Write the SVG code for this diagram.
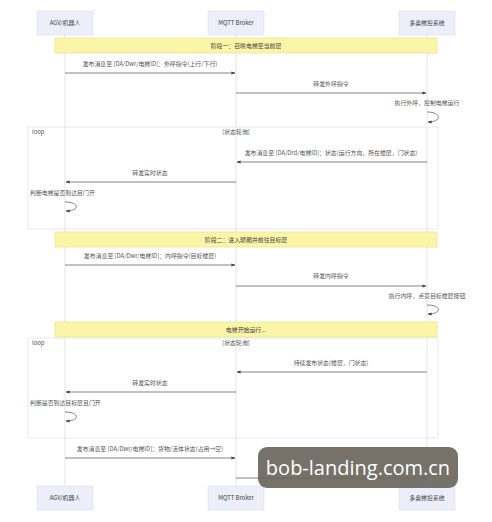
<svg xmlns="http://www.w3.org/2000/svg" width="492" height="522" viewBox="0 0 492 522">
<defs>
<style>
text{font-family:"Noto Sans CJK SC","Liberation Sans",sans-serif;fill:#555;font-size:5.9px}
.actor rect{fill:#eceef9;stroke:#dcdcf0;stroke-width:0.6}
.actor text{text-anchor:middle;fill:#444}
.life{stroke:#dcdcdc;stroke-width:0.8}
.note rect{fill:#fbf5a8;stroke:#e6dd7a;stroke-width:0.6}
.note text{text-anchor:middle;fill:#444}
.loop rect{fill:none;stroke:#dfe3ea;stroke-width:0.8}
.msg{stroke:#666;stroke-width:0.8;fill:none}
.lbl{text-anchor:middle}
</style>
<marker id="ah" viewBox="0 0 10 10" refX="9" refY="5" markerWidth="5" markerHeight="5" orient="auto"><path d="M0,1 L10,5 L0,9 z" fill="#444"/></marker>
</defs>
<rect width="492" height="522" fill="#fff"/>
<g id="lifelines">
<line class="life" x1="65" y1="35" x2="65" y2="486"/>
<line class="life" x1="236" y1="35" x2="236" y2="486"/>
<line class="life" x1="427" y1="35" x2="427" y2="486"/>
</g>
<g id="loop1" class="loop"><rect x="28" y="127" width="410" height="102"/><text x="32" y="134">loop</text><text x="236" y="134" text-anchor="middle">[状态轮询]</text></g>
<g id="loop2" class="loop"><rect x="28" y="338" width="410" height="100"/><text x="32" y="345">loop</text><text x="236" y="345" text-anchor="middle">[状态轮询]</text></g>
<g id="note1" class="note"><rect x="55" y="38" width="382" height="15"/><text x="246" y="47.5">阶段一：召唤电梯至当前层</text></g>
<g id="note2" class="note"><rect x="55" y="232" width="382" height="15"/><text x="246" y="241.5">阶段二：进入轿厢并前往目标层</text></g>
<g id="note3" class="note"><rect x="55" y="322" width="382" height="15"/><text x="246" y="331.5">电梯开始运行...</text></g>
<g id="connectors">
<text class="lbl" x="150" y="66">发布消息至 [DA/Dwr/电梯ID]：外呼指令(上行/下行)</text>
<line class="msg" x1="65" y1="73" x2="235" y2="73" marker-end="url(#ah)"/>
<text class="lbl" x="331" y="86">转发外呼指令</text>
<line class="msg" x1="236" y1="93" x2="426" y2="93" marker-end="url(#ah)"/>
<text class="lbl" x="427" y="105">执行外呼，控制电梯运行</text>
<path class="msg" d="M427,112 C442,112 442,122 428,122" marker-end="url(#ah)"/>
<text class="lbl" x="331" y="155">发布消息至 [DA/Drd/电梯ID]：状态(运行方向，所在楼层，门状态)</text>
<line class="msg" x1="427" y1="162" x2="237" y2="162" marker-end="url(#ah)"/>
<text class="lbl" x="150" y="175">转发实时状态</text>
<line class="msg" x1="236" y1="182" x2="66" y2="182" marker-end="url(#ah)"/>
<text x="30" y="195">判断电梯是否到达目门开</text>
<path class="msg" d="M65,202 C80,202 80,211 66,211" marker-end="url(#ah)"/>
<text class="lbl" x="150" y="258">发布消息至 [DA/Dwr/电梯ID]：内呼指令(目标楼层)</text>
<line class="msg" x1="65" y1="265" x2="235" y2="265" marker-end="url(#ah)"/>
<text class="lbl" x="331" y="278">转发内呼指令</text>
<line class="msg" x1="236" y1="286" x2="426" y2="286" marker-end="url(#ah)"/>
<text class="lbl" x="427" y="298">执行内呼，点亮目标楼层按钮</text>
<path class="msg" d="M427,305 C442,305 442,314 428,314" marker-end="url(#ah)"/>
<text class="lbl" x="331" y="365">持续发布状态(楼层，门状态)</text>
<line class="msg" x1="427" y1="372" x2="237" y2="372" marker-end="url(#ah)"/>
<text class="lbl" x="150" y="385">转发实时状态</text>
<line class="msg" x1="236" y1="392" x2="66" y2="392" marker-end="url(#ah)"/>
<text x="30" y="405">判断是否到达目标层且门开</text>
<path class="msg" d="M65,412 C80,412 80,421 66,421" marker-end="url(#ah)"/>
<text class="lbl" x="150" y="451">发布消息至 [DA/Dwr/电梯ID]：货物/活体状态(占用→空)</text>
<line class="msg" x1="65" y1="458" x2="235" y2="458" marker-end="url(#ah)"/>
<line class="msg" x1="236" y1="478" x2="426" y2="478" marker-end="url(#ah)"/>
</g>
<g id="agv-top" class="actor"><rect x="37" y="11" width="56" height="24"/><text x="65" y="25">AGV/机器人</text></g>
<g id="mqtt-top" class="actor"><rect x="208" y="11" width="56" height="24"/><text x="236" y="25">MQTT Broker</text></g>
<g id="sys-top" class="actor"><rect x="399" y="11" width="56" height="24"/><text x="427" y="25">多奥梯控系统</text></g>
<g id="agv-bottom" class="actor"><rect x="37" y="486" width="56" height="24"/><text x="65" y="500">AGV/机器人</text></g>
<g id="mqtt-bottom" class="actor"><rect x="208" y="486" width="56" height="24"/><text x="236" y="500">MQTT Broker</text></g>
<g id="sys-bottom" class="actor"><rect x="399" y="486" width="56" height="24"/><text x="427" y="500">多奥梯控系统</text></g>
<g id="watermark"><rect x="258" y="447" width="200" height="41" rx="9" fill="#6a665d" fill-opacity="0.92"/><text x="358" y="475" text-anchor="middle" style="font-family:'Open Sans','Liberation Sans',sans-serif;font-size:20px;fill:#fff">bob-landing.com.cn</text></g>
</svg>
